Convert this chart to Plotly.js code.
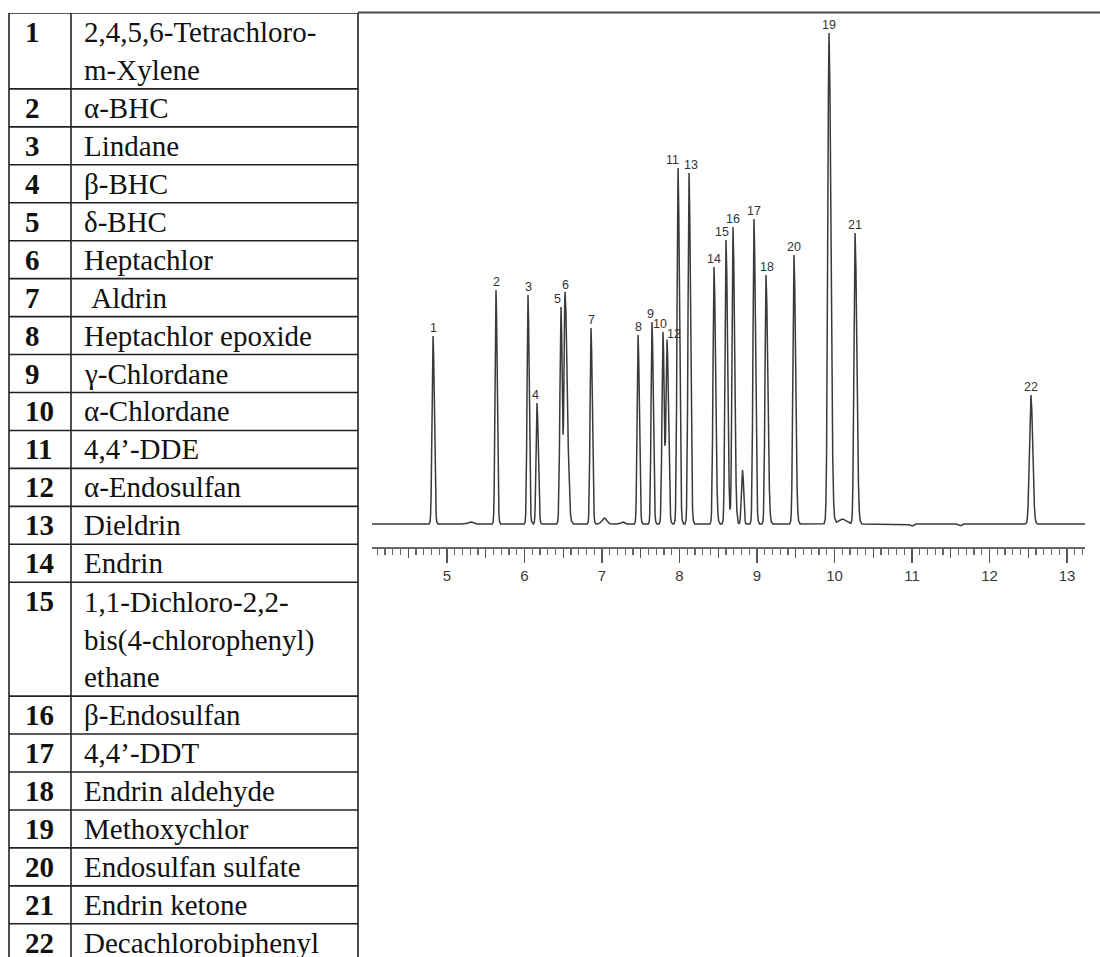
<!DOCTYPE html>
<html><head><meta charset="utf-8">
<script src="https://cdn.plot.ly/plotly-3.0.1.min.js"></script>
<style>html,body{margin:0;padding:0;background:#fff}#chart{width:1100px;height:957px}</style>
</head><body><div id="chart"></div>
<script>
// ---------------- DATA ----------------
// Compound table
const compoundNumbers = ['1','2','3','4','5','6','7','8','9','10','11','12','13','14','15','16','17','18','19','20','21','22'];
const compoundNames = [
  '2,4,5,6-Tetrachloro-<br>m-Xylene', 'α-BHC', 'Lindane', 'β-BHC', 'δ-BHC', 'Heptachlor',
  '\u00a0Aldrin', 'Heptachlor epoxide', 'γ-Chlordane', 'α-Chlordane', '4,4’-DDE', 'α-Endosulfan',
  'Dieldrin', 'Endrin', '1,1-Dichloro-2,2-<br>bis(4-chlorophenyl)<br>ethane', 'β-Endosulfan',
  '4,4’-DDT', 'Endrin aldehyde', 'Methoxychlor', 'Endosulfan sulfate', 'Endrin ketone', 'Decachlorobiphenyl'
];

// Labelled peaks (retention time in min, height in detector units, left/right peak sigma in min)
const peakLabels  = ['1','2','3','4','5','6','7','8','9','10','11','12','13','14','15','16','17','18','19','20','21','22'];
const peakTimes   = [4.820,5.632,6.045,6.161,6.471,6.523,6.858,7.465,7.645,7.787,7.981,7.839,8.123,8.445,8.600,8.690,8.961,9.116,9.929,9.477,10.265,12.535];
const peakHeights = [188,234,229,121,217,231,196,189,202,192,356,184,351,257,284,297,305,249,491,269,291,129];
const peakSigmaL  = [.013,.012,.012,.012,.014,.013,.012,.012,.012,.013,.013,.014,.013,.013,.013,.013,.013,.013,.016,.014,.014,.019];
const peakSigmaR  = [.016,.015,.015,.016,.016,.028,.016,.016,.016,.015,.018,.018,.018,.020,.020,.020,.018,.022,.024,.020,.022,.022];

// Small unlabelled baseline features
const minorTimes   = [5.31, 7.03, 7.27, 8.813, 10.10, 11.00, 11.62];
const minorHeights = [2, 6, 2, 54, 5, -2, -2];
const minorSigma   = [.03, .03, .02, .014, .05, .02, .02];

// Axis ticks
const timeRange = [4.032, 13.232];
const majorTickStep = 1, halfTickStart = 0.5, minorTickStep = 0.1;

// ---------------- STYLE / LAYOUT ----------------
const W = 1100, H = 957;
const px = (v) => v / W, py = (v) => 1 - v / H;
const labelShift = {'4':-2,'5':-4,'9':-2,'10':-3,'11':-6,'12':7,'13':2,'15':-4,'18':1};
const labelDrop = {'12':-2};
const lineColor = '#3a3a3a';

// Build chromatogram trace from the peak table
const offsets = [-4,-3,-2.5,-2,-1.5,-1,-0.5,0,0.5,1,1.5,2,2.5,3,4];
const peaks = [];
peakTimes.forEach((t,i)=>peaks.push({t, h:peakHeights[i], sl:peakSigmaL[i], sr:peakSigmaR[i]}));
minorTimes.forEach((t,i)=>peaks.push({t, h:minorHeights[i], sl:minorSigma[i], sr:minorSigma[i]}));
let ts = [timeRange[0], timeRange[1]];
peaks.forEach(p => offsets.forEach(o => ts.push(p.t + o*(o<0?p.sl:p.sr))));
ts = ts.filter(t => t>=timeRange[0] && t<=timeRange[1]).sort((a,b)=>a-b);
const signal = ts.map(t => peaks.reduce((s,p)=>{const sg = t<p.t?p.sl:p.sr; const z=(t-p.t)/sg; return s + p.h*Math.exp(-0.5*z*z);},0));

const traces = [
  {x: ts, y: signal, type:'scatter', mode:'lines', line:{color:lineColor, width:1.5}, hoverinfo:'skip', showlegend:false, xaxis:'x', yaxis:'y'},
  {x: [], y: [], type:'scatter', mode:'lines', xaxis:'x2', yaxis:'y', showlegend:false, hoverinfo:'skip'},
  {x: [], y: [], type:'scatter', mode:'lines', xaxis:'x3', yaxis:'y3', showlegend:false, hoverinfo:'skip'}
];

// Table geometry in its own axis (x3 in px-like units, y3 in row units)
const rowUnit = 37.95, tableTop = 13;
const tableLeft = 9, tableDivider = 71, tableRight = 358;
const rowLines = compoundNames.map(n => n.split('<br>').length);
const rowStart = []; let acc = 0;
rowLines.forEach(n => { rowStart.push(acc); acc += n; });
const yUnits = (H - tableTop) / rowUnit;

const shapes = [];
const annotations = [];
// top rule of the chart panel
shapes.push({type:'line', xref:'paper', yref:'paper', x0:px(tableRight), x1:1, y0:py(12.5), y1:py(12.5), line:{color:'#4a4a4a', width:2}});
// table horizontal rules
const boundaries = rowStart.concat([acc]);
boundaries.forEach(b => shapes.push({type:'line', xref:'x3', yref:'y3', x0:tableLeft, x1:tableRight, y0:b, y1:b, line:{color:'#222', width:1.6}}));
[tableLeft, tableDivider, tableRight].forEach(x => shapes.push({type:'line', xref:'x3', yref:'y3', x0:x, x1:x, y0:0, y1:yUnits, line:{color:'#222', width:1.6}}));

const serif = 'Liberation Serif, Times New Roman, serif';
compoundNames.forEach((name,i)=>{
  annotations.push({xref:'x3', yref:'y3', x:tableLeft+14, y:rowStart[i]+0.5, text:'<b>'+compoundNumbers[i]+'</b>', showarrow:false, xanchor:'left', yanchor:'middle', font:{family:serif, size:29, color:'#111'}});
  annotations.push({xref:'x3', yref:'y3', x:tableDivider+11, y:rowStart[i]+rowLines[i]/2, text:name, showarrow:false, xanchor:'left', yanchor:'middle', align:'left', font:{family:serif, size:29, color:'#111'}});
});

// peak labels
peakLabels.forEach((lab,i)=>{
  annotations.push({xref:'x', yref:'y', x:peakTimes[i], y:peakHeights[i], text:lab, showarrow:false, xanchor:'center', yanchor:'bottom', yshift:(labelDrop[lab]||0), xshift:(labelShift[lab]||0),
    borderpad:0, font:{family:'Liberation Sans, Arial, sans-serif', size:12.5, color:'#333'}});
});

const axisTop = 12, axisBottom = 547, baseline = 524;
const layout = {
  width: W, height: H,
  margin: {l:0, r:0, t:0, b:0},
  paper_bgcolor:'#fff', plot_bgcolor:'rgba(0,0,0,0)',
  showlegend:false,
  xaxis: {domain:[px(372), px(1085)], range:timeRange, anchor:'y', tickmode:'linear', tick0:0, dtick:majorTickStep,
    ticks:'outside', ticklen:14, tickwidth:1.3, tickcolor:'#555', showline:true, linecolor:'#666', linewidth:2,
    showgrid:false, zeroline:false, tickfont:{family:'Liberation Sans, Arial, sans-serif', size:15, color:'#3a3a3a'},
    ticklabelstandoff:0,
    minor:{dtick:minorTickStep, ticks:'outside', ticklen:6, tickwidth:1.1, tickcolor:'#666', showgrid:false}},
  xaxis2: {overlaying:'x', anchor:'y', side:'bottom', range:timeRange, tickmode:'linear', tick0:halfTickStart, dtick:majorTickStep,
    ticks:'outside', ticklen:10, tickwidth:1.2, tickcolor:'#555', showticklabels:false, showline:false, showgrid:false, zeroline:false},
  yaxis: {domain:[py(axisBottom), py(axisTop)], range:[-(axisBottom-baseline), baseline-axisTop], visible:false, showgrid:false, zeroline:false},
  xaxis3: {domain:[0, px(360)], range:[0,360], anchor:'y3', visible:false, showgrid:false, zeroline:false},
  yaxis3: {domain:[0, py(tableTop)], range:[yUnits, 0], anchor:'x3', visible:false, showgrid:false, zeroline:false},
  shapes, annotations
};
Plotly.newPlot('chart', traces, layout, {staticPlot:true, displayModeBar:false});
</script></body></html>
